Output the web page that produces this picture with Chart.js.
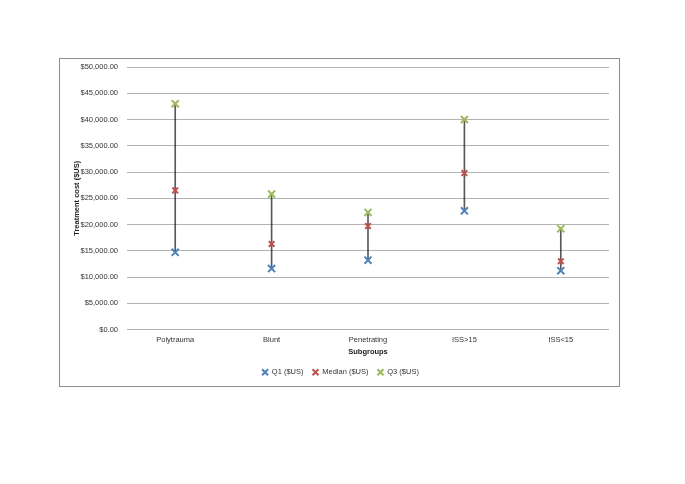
<!DOCTYPE html>
<html>
<head>
<meta charset="utf-8">
<script src="https://cdn.jsdelivr.net/npm/chart.js@4"></script>
<style>
html,body{margin:0;padding:0;background:#fff;}
#box{position:absolute;left:59px;top:58px;width:561px;height:329px;border:1px solid #8c8c8c;box-sizing:border-box;}
#box canvas{position:absolute;left:0;top:0;}
</style>
</head>
<body>
<div id="box"><canvas id="c" width="559" height="327"></canvas></div>
<script>
const categories = ["Polytrauma", "Blunt", "Penetrating", "ISS>15", "ISS<15"];
const q1 = [14700, 11600, 13200, 22600, 11200];
const median = [26500, 16300, 19700, 29800, 13000];
const q3 = [43000, 25800, 22300, 40000, 19200];
const yTicks = [0, 5000, 10000, 15000, 20000, 25000, 30000, 35000, 40000, 45000, 50000];

const FONT = "'Liberation Sans', Arial, sans-serif";
const fmt = v => '$' + Number(v).toLocaleString('en-US', {minimumFractionDigits: 2, maximumFractionDigits: 2});

new Chart(document.getElementById('c'), {
  data: {
    labels: categories,
    datasets: [
      {type: 'bar', label: 'range', data: categories.map((c, i) => [q1[i], q3[i]]),
       backgroundColor: 'rgba(0,0,0,0.65)', borderWidth: 0, barThickness: 1, grouped: false, order: 10},
      {type: 'line', label: 'Q1 ($US)', data: q1, showLine: false, pointStyle: 'crossRot',
       pointRadius: 5, pointBorderWidth: 2, borderColor: '#4F81BD', backgroundColor: '#4F81BD', order: 1},
      {type: 'line', label: 'Median ($US)', data: median, showLine: false, pointStyle: 'crossRot',
       pointRadius: 4, pointBorderWidth: 2, borderColor: '#C0504D', backgroundColor: '#C0504D', order: 1},
      {type: 'line', label: 'Q3 ($US)', data: q3, showLine: false, pointStyle: 'crossRot',
       pointRadius: 5, pointBorderWidth: 2, borderColor: '#9BBB59', backgroundColor: '#9BBB59', order: 1}
    ]
  },
  options: {
    responsive: false,
    animation: false,
    layout: {padding: {left: 12, right: 10, top: 8, bottom: 0}},
    plugins: {
      legend: {
        position: 'bottom',
        labels: {
          filter: item => item.text !== 'range',
          usePointStyle: true, pointStyle: 'crossRot', boxWidth: 6, boxHeight: 6,
          padding: 9, color: '#333', font: {family: FONT, size: 7.5}
        }
      },
      tooltip: {enabled: false}
    },
    scales: {
      x: {
        offset: true,
        grid: {display: false, drawTicks: false},
        border: {display: false},
        ticks: {color: '#333', font: {family: FONT, size: 7.5}, padding: 6, maxRotation: 0},
        title: {display: true, text: 'Subgroups', color: '#222', font: {family: FONT, size: 7.5, weight: 'bold'}, padding: {top: 0, bottom: 3}},
        afterFit: s => { s.height = 30; }
      },
      y: {
        min: 0, max: 50000,
        afterBuildTicks: s => { s.ticks = yTicks.map(v => ({value: v})); },
        grid: {color: '#b3b3b3', lineWidth: 1, drawTicks: false},
        border: {display: false},
        ticks: {color: '#333', font: {family: FONT, size: 7.5}, padding: 9, callback: v => fmt(v)},
        title: {display: true, text: 'Treatment cost ($US)', color: '#222', font: {family: FONT, size: 7.5, weight: 'bold'}, padding: {top: 0, bottom: 4}},
        afterFit: s => { s.width = 55; s.paddingTop = 0; s.paddingBottom = 0; }
      }
    }
  }
});
</script>
</body>
</html>
